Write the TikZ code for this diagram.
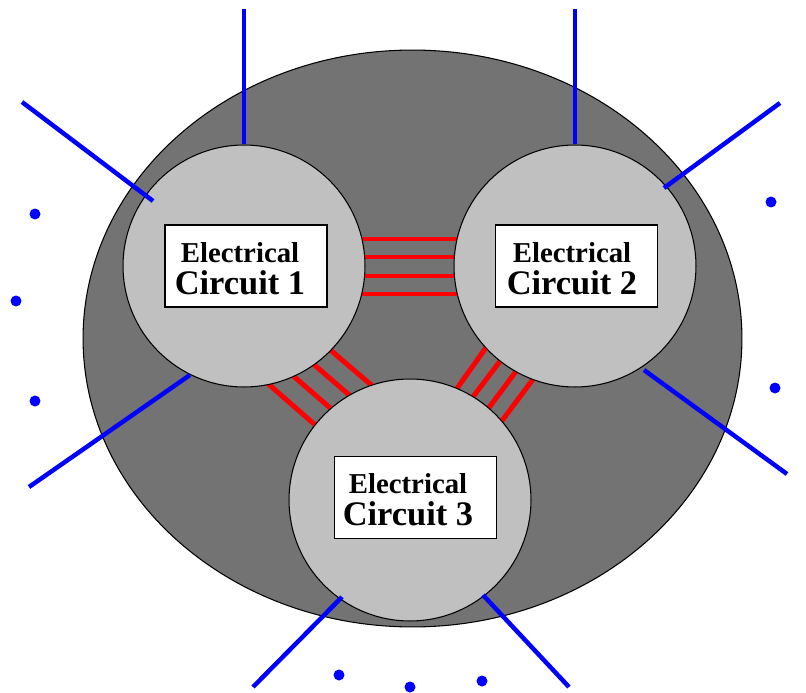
\documentclass[tikz,border=0pt]{standalone}
\usepackage{fontspec}
\setmainfont{Liberation Serif}
\usetikzlibrary{shapes.geometric}
\definecolor{darkfill}{HTML}{737373}
\definecolor{lightfill}{HTML}{C0C0C0}
\tikzset{
  body/.style={ellipse, draw=black, line width=0.6pt, fill=darkfill, inner sep=0pt,
    minimum width=13.18cm, minimum height=11.54cm},
  circuit/.style={circle, draw=black, line width=0.6pt, fill=lightfill, inner sep=0pt,
    minimum size=4.84cm},
  labelbox/.style={rectangle, draw=black, line width=0.6pt, fill=white, inner sep=0pt,
    minimum width=3.24cm, minimum height=1.64cm},
  labeltext/.style={align=center, inner sep=0pt, font=\fontsize{19.6}{18.2}\selectfont\bfseries},
  wire/.style={red, line width=2.83pt},
  lead/.style={blue, line width=2.55pt},
  dotmark/.style={circle, fill=blue, inner sep=0pt, minimum size=0.22cm}
}
\newcommand{\eltext}[1]{{\fontsize{16.4}{18.2}\selectfont Electrical}\\Circuit #1}
\begin{document}
\begin{tikzpicture}[x=0.02cm,y=-0.02cm]
\useasboundingbox (0,0) rectangle (806,693);
\node[body] (E) at (412.5,338.5) {};
% red wires
\coordinate (wa1) at (350,239); \coordinate (wb1) at (470,239);
\coordinate (wa2) at (350,257); \coordinate (wb2) at (470,257);
\coordinate (wa3) at (350,276); \coordinate (wb3) at (470,276);
\coordinate (wa4) at (350,294); \coordinate (wb4) at (470,294);
\foreach \i in {1,...,4} \draw[wire] (wa\i) -- (wb\i);
\coordinate (xa1) at (266,382); \coordinate (xb1) at (321,430);
\coordinate (xa2) at (291,374); \coordinate (xb2) at (336,413);
\coordinate (xa3) at (311,362); \coordinate (xb3) at (355,400);
\coordinate (xa4) at (328,348); \coordinate (xb4) at (376,389);
\foreach \i in {1,...,4} \draw[wire] (xa\i) -- (xb\i);
\coordinate (ya1) at (490,342); \coordinate (yb1) at (453,394);
\coordinate (ya2) at (504,356); \coordinate (yb2) at (469,402);
\coordinate (ya3) at (520,366); \coordinate (yb3) at (485,413);
\coordinate (ya4) at (537,374); \coordinate (yb4) at (498,426);
\foreach \i in {1,...,4} \draw[wire] (ya\i) -- (yb\i);
% circuits
\node[circuit] (c1) at (244,266) {};
\node[circuit] (c2) at (575,266) {};
\node[circuit] (c3) at (410,500) {};
% blue leads
\coordinate (t1) at (244,9);
\coordinate (t2) at (575,9);
\draw[lead] (t1) -- (c1.north);
\draw[lead] (t2) -- (c2.north);
\coordinate (o1a) at (22,102);  \coordinate (i1a) at (153,201);
\coordinate (o1b) at (29,487);  \coordinate (i1b) at (190,375);
\coordinate (o2a) at (780,103); \coordinate (i2a) at (664,188);
\coordinate (o2b) at (787,474); \coordinate (i2b) at (644,370);
\coordinate (o3a) at (253,687); \coordinate (i3a) at (342,597);
\coordinate (o3b) at (569,687); \coordinate (i3b) at (483,595);
\draw[lead] (o1a) -- (i1a);
\draw[lead] (o1b) -- (i1b);
\draw[lead] (o2a) -- (i2a);
\draw[lead] (o2b) -- (i2b);
\draw[lead] (o3a) -- (i3a);
\draw[lead] (o3b) -- (i3b);
% label boxes
\node[labelbox] (b1) at (246,266) {};
\node[labelbox] (b2) at (576.5,266) {};
\node[labelbox] (b3) at (415.5,497.5) {};
\node[labeltext] (l1) at (240,269) {\eltext{1}};
\node[labeltext] (l2) at (572,269) {\eltext{2}};
\node[labeltext] (l3) at (408,500) {\eltext{3}};
% dots
\node[dotmark] (d1) at (35,214) {};
\node[dotmark] (d2) at (16,301) {};
\node[dotmark] (d3) at (35,401) {};
\node[dotmark] (d4) at (771,202) {};
\node[dotmark] (d5) at (775,388) {};
\node[dotmark] (d6) at (339,675) {};
\node[dotmark] (d7) at (410,687) {};
\node[dotmark] (d8) at (482,681) {};
\end{tikzpicture}
\end{document}
